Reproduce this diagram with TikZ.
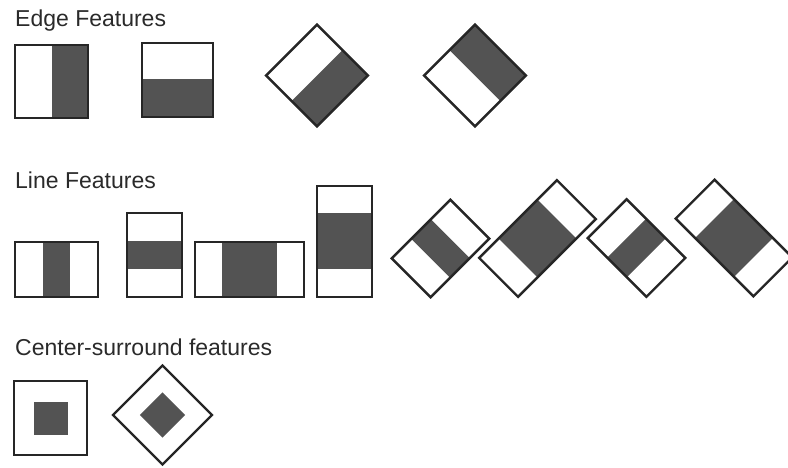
\documentclass[tikz,border=0pt]{standalone}
\usepackage{fontspec}
\setmainfont{Liberation Sans}
\usepackage{xcolor}

\begin{document}
\begin{tikzpicture}[x=1pt, y=-1pt,
  featBox/.style={draw=lineDark, line width=2.4pt, line join=miter},
  darkPart/.style={fill=featDark},
  groupTitle/.style={anchor=base west, inner sep=0pt, font=\fontsize{23}{26}\selectfont, text=textGray}]

% Colori
\definecolor{featDark}{HTML}{535353}
\definecolor{lineDark}{HTML}{262626}
\definecolor{textGray}{HTML}{2A2A2A}

\useasboundingbox (0,0) rectangle (788,467);

% Semi-lati delle feature ruotate
\def\hs{27.5}
\def\hm{41.5}
\def\hl{55}

% Titoli
\node[groupTitle] (edgeTitle) at (15,26) {Edge Features};
\node[groupTitle] (lineTitle) at (15,188) {Line Features};
\node[groupTitle] (centerTitle) at (15,355) {Center-surround features};

% Edge Features
\fill[darkPart] (52,45) rectangle (88,118);
\draw[featBox] (15,45) rectangle (88,118);

\fill[darkPart] (142,79) rectangle (213,117);
\draw[featBox] (142,43) rectangle (213,117);

\begin{scope}[shift={(317,75.5)}, rotate=-45]
  \fill[darkPart] (0,-36) rectangle (36,36);
  \draw[featBox] (-36,-36) rectangle (36,36);
\end{scope}

\begin{scope}[shift={(475,75.5)}, rotate=45]
  \fill[darkPart] (0,-36) rectangle (36,36);
  \draw[featBox] (-36,-36) rectangle (36,36);
\end{scope}

% Line Features
\fill[darkPart] (42.7,242) rectangle (70.3,297);
\draw[featBox] (15,242) rectangle (98,297);

\fill[darkPart] (127,241) rectangle (182,269);
\draw[featBox] (127,213) rectangle (182,297);

\fill[darkPart] (222,242) rectangle (277,297);
\draw[featBox] (195,242) rectangle (304,297);

\fill[darkPart] (317,213) rectangle (372,269);
\draw[featBox] (317,186) rectangle (372,297);

\begin{scope}[shift={(440.5,248.5)}, rotate=45]
  \fill[darkPart] (-13.8,-\hs) rectangle (13.8,\hs);
  \draw[featBox] (-\hm,-\hs) rectangle (\hm,\hs);
\end{scope}

\begin{scope}[shift={(537.5,238.5)}, rotate=45]
  \fill[darkPart] (-\hs,-\hs) rectangle (\hs,\hs);
  \draw[featBox] (-\hl,-\hs) rectangle (\hl,\hs);
\end{scope}

\begin{scope}[shift={(636.5,248)}, rotate=-45]
  \fill[darkPart] (-13.8,-\hs) rectangle (13.8,\hs);
  \draw[featBox] (-\hm,-\hs) rectangle (\hm,\hs);
\end{scope}

\begin{scope}[shift={(734,238)}, rotate=-45]
  \fill[darkPart] (-\hs,-\hs) rectangle (\hs,\hs);
  \draw[featBox] (-\hl,-\hs) rectangle (\hl,\hs);
\end{scope}

% Center-surround features
\fill[darkPart] (34,402) rectangle (68,435);
\draw[featBox] (14,381) rectangle (87,455);

\begin{scope}[shift={(162.5,415)}, rotate=45]
  \fill[darkPart] (-16,-16) rectangle (16,16);
  \draw[featBox] (-35,-35) rectangle (35,35);
\end{scope}
\end{tikzpicture}
\end{document}
